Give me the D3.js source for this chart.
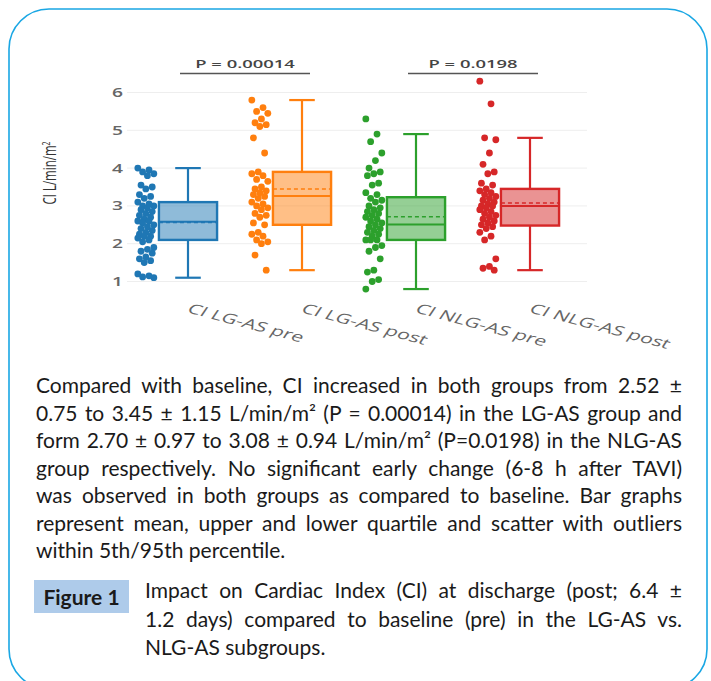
<!DOCTYPE html>
<html><head><meta charset="utf-8">
<script src="https://cdn.jsdelivr.net/npm/d3@7"></script>
<style>body{margin:0;background:#fff}</style>
</head><body><svg id="c" width="711" height="681"></svg>
<script>
// ---------------- DATA ----------------
const categories = ["CI LG-AS pre", "CI LG-AS post", "CI NLG-AS pre", "CI NLG-AS post"];
const colors = ["#1f77b4", "#ff7f0e", "#2ca02c", "#d62728"];

const lgPre = [4.0, 3.95, 3.9, 3.85, 3.8, 3.55, 3.5, 3.45, 3.3, 3.25, 3.2, 3.1, 3.05, 3.0, 3.0, 2.95, 2.9, 2.85, 2.8, 2.75, 2.7, 2.65, 2.6, 2.6, 2.55, 2.5, 2.45, 2.4, 2.35, 2.3, 2.25, 2.2, 2.2, 2.15, 2.1, 2.05, 1.9, 1.85, 1.8, 1.75, 1.65, 1.6, 1.55, 1.5, 1.2, 1.15, 1.12, 1.1];
const lgPost = [5.8, 5.6, 5.5, 5.45, 5.3, 5.2, 5.15, 5.1, 4.8, 4.4, 3.9, 3.85, 3.8, 3.7, 3.65, 3.5, 3.45, 3.4, 3.35, 3.3, 3.25, 3.2, 3.1, 3.05, 3.0, 2.95, 2.9, 2.8, 2.75, 2.7, 2.55, 2.5, 2.3, 2.25, 2.2, 2.1, 2.05, 2.0, 1.7, 1.3];
const nlgPre = [5.3, 4.9, 4.7, 4.4, 4.2, 4.0, 3.9, 3.85, 3.8, 3.6, 3.55, 3.35, 3.3, 3.2, 3.15, 3.1, 3.0, 2.95, 2.9, 2.85, 2.8, 2.75, 2.7, 2.65, 2.6, 2.55, 2.5, 2.45, 2.4, 2.35, 2.3, 2.25, 2.2, 2.1, 2.1, 2.1, 1.95, 1.9, 1.8, 1.6, 1.3, 1.25, 1.05, 1.0, 0.8];
const nlgPost = [6.3, 5.7, 4.8, 4.75, 4.4, 4.1, 3.9, 3.85, 3.6, 3.55, 3.45, 3.4, 3.35, 3.3, 3.25, 3.2, 3.15, 3.1, 3.05, 3.0, 3.0, 2.95, 2.9, 2.85, 2.8, 2.75, 2.7, 2.65, 2.6, 2.55, 2.5, 2.45, 2.4, 2.3, 2.2, 2.1, 1.6, 1.4, 1.35, 1.3];
const seriesPoints = [lgPre, lgPost, nlgPre, nlgPost];

const boxLower  = [1.1, 1.3, 0.8, 1.3];
const boxQ1     = [2.1, 2.5, 2.1, 2.48];
const boxMedian = [2.58, 3.26, 2.51, 3.0];
const boxQ3     = [3.1, 3.9, 3.23, 3.45];
const boxUpper  = [4.0, 5.8, 4.9, 4.8];
const boxMean   = [2.56, 3.45, 2.71, 3.08];

const yTicks = [1, 2, 3, 4, 5, 6];
const yTitle = "CI L/min/m";
const pLabels = ["P = 0.00014", "P = 0.0198"];
const pPairs = [[0, 1], [2, 3]];

const captionLines = [
  "Compared with baseline, CI increased in both groups from 2.52 ±",
  "0.75 to 3.45 ± 1.15 L/min/m² (P = 0.00014) in the LG-AS group and",
  "form 2.70 ± 0.97 to 3.08 ± 0.94 L/min/m² (P=0.0198) in the NLG-AS",
  "group respectively. No significant early change (6-8 h after TAVI)",
  "was observed in both groups as compared to baseline. Bar graphs",
  "represent mean, upper and lower quartile and scatter with outliers",
  "within 5th/95th percentile."
];
const figureTag = "Figure 1";
const figureLines = [
  "Impact on Cardiac Index (CI) at discharge (post; 6.4 ±",
  "1.2 days) compared to baseline (pre) in the LG-AS vs.",
  "NLG-AS subgroups."
];

// ---------------- DRAW ----------------
const svg = d3.select("#c");
const stretch = 1.6;            // chart image appears horizontally stretched
const chartFont = "'Open Sans', sans-serif";

// frame
svg.append("rect").attr("x", 9).attr("y", 9).attr("width", 698).attr("height", 680)
  .attr("rx", 40).attr("ry", 40).attr("fill", "none")
  .attr("stroke", "#1aa7e4").attr("stroke-width", 1.6);

const x = d3.scaleBand().domain(categories).range([131, 587]);
const y = d3.scaleLinear().domain([1, 6]).range([281.5, 92.5]);
const bw = x.bandwidth();
const boxW = bw * 0.51;
const ptOff = -bw * 0.37;
const jitW = 16;

// grid
svg.append("g").selectAll("line").data(yTicks).join("line")
  .attr("x1", 127).attr("x2", 587)
  .attr("y1", d => y(d)).attr("y2", d => y(d))
  .attr("stroke", "#eeeeee").attr("stroke-width", 1);

// y tick labels
svg.append("g").selectAll("text").data(yTicks).join("text")
  .attr("transform", d => `translate(123,${y(d) + 4.5}) scale(${stretch},1)`)
  .attr("text-anchor", "end")
  .attr("font-family", chartFont).attr("font-size", 12).attr("font-weight", 600)
  .attr("fill", "#666").text(d => d);

// y title
const yt = svg.append("text")
  .attr("transform", `translate(56,173) scale(${stretch},1) rotate(-90)`)
  .attr("text-anchor", "middle")
  .attr("font-family", chartFont).attr("font-size", 11.5).attr("fill", "#333");
yt.append("tspan").text(yTitle);
yt.append("tspan").attr("font-size", 7).attr("dy", -4).text("2");

// groups
categories.forEach((cat, i) => {
  const cx = x(cat) + bw / 2;
  const col = colors[i];
  const g = svg.append("g");
  // points
  g.selectAll("circle").data(seriesPoints[i]).join("circle")
    .attr("cx", (d, k) => cx + ptOff + (((k * 7) % 11) / 10 - 0.5) * jitW)
    .attr("cy", d => y(d))
    .attr("r", 3.4).attr("fill", col);
  // whiskers
  g.append("line").attr("x1", cx).attr("x2", cx)
    .attr("y1", y(boxQ3[i])).attr("y2", y(boxUpper[i]))
    .attr("stroke", col).attr("stroke-width", 2.2);
  g.append("line").attr("x1", cx).attr("x2", cx)
    .attr("y1", y(boxQ1[i])).attr("y2", y(boxLower[i]))
    .attr("stroke", col).attr("stroke-width", 2.2);
  [boxUpper[i], boxLower[i]].forEach(v => {
    g.append("line").attr("x1", cx - boxW * 0.22).attr("x2", cx + boxW * 0.22)
      .attr("y1", y(v)).attr("y2", y(v))
      .attr("stroke", col).attr("stroke-width", 2.2);
  });
  // box
  g.append("rect").attr("x", cx - boxW / 2).attr("width", boxW)
    .attr("y", y(boxQ3[i])).attr("height", y(boxQ1[i]) - y(boxQ3[i]))
    .attr("fill", col).attr("fill-opacity", 0.5)
    .attr("stroke", col).attr("stroke-width", 2.4);
  g.append("line").attr("x1", cx - boxW / 2).attr("x2", cx + boxW / 2)
    .attr("y1", y(boxMedian[i])).attr("y2", y(boxMedian[i]))
    .attr("stroke", col).attr("stroke-width", 2);
  g.append("line").attr("x1", cx - boxW / 2).attr("x2", cx + boxW / 2)
    .attr("y1", y(boxMean[i])).attr("y2", y(boxMean[i]))
    .attr("stroke", col).attr("stroke-width", 1.5).attr("stroke-dasharray", "4,3");
  // x label
  svg.append("text")
    .attr("transform", `translate(${cx - 2},${312}) scale(${stretch},1) rotate(23)`)
    .attr("font-family", chartFont).attr("font-size", 13.5)
    .attr("fill", "#666").text(cat);
});

// p-value brackets
pPairs.forEach((p, i) => {
  const a = x(categories[p[0]]) + bw / 2, b = x(categories[p[1]]) + bw / 2;
  const mid = (a + b) / 2;
  svg.append("line").attr("x1", mid - 65).attr("x2", mid + 65)
    .attr("y1", 73.5).attr("y2", 73.5).attr("stroke", "#555").attr("stroke-width", 1.5);
  svg.append("text").attr("transform", `translate(${mid},67.5) scale(${stretch},1)`)
    .attr("text-anchor", "middle")
    .attr("font-family", chartFont).attr("font-size", 11.5).attr("font-weight", 600)
    .attr("fill", "#444").text(pLabels[i]);
});

// ---------------- CAPTION ----------------
const capFont = "Lato, sans-serif";
const capSize = 21;
function textBlock(lines, y0, dy) {
  return lines.map((t, i) => svg.append("text")
    .attr("font-family", capFont).attr("font-size", capSize).attr("fill", "#1a1a1a")
    .attr("y", y0 + i * dy).text(t));
}
const capNodes = textBlock(captionLines, 393, 27.5);
const figNodes = textBlock(figureLines, 598, 28.5);

// common horizontal compression so that the widest justified line fits
const justified = [
  ...capNodes.slice(0, 6).map(n => [n, 36, 682]),
  ...figNodes.slice(0, 2).map(n => [n, 145, 682])
];
let kmin = 1;
justified.forEach(([n, a, b]) => {
  const w = n.node().getComputedTextLength();
  kmin = Math.min(kmin, (b - a) * 0.985 / w);
});
const k = kmin;
function place(n, a, b, just) {
  const yy = +n.attr("y");
  n.attr("y", null).attr("transform", `translate(${a},${yy}) scale(${k},1)`);
  if (just) {
    const w = n.node().getComputedTextLength();
    const spaces = (n.text().match(/ /g) || []).length;
    const target = (b - a) / k;
    if (spaces) n.attr("word-spacing", (target - w) / spaces);
  }
}
capNodes.forEach((n, i) => place(n, 36, 682, i < 6));
figNodes.forEach((n, i) => place(n, 145, 682, i < 2));

// figure tag
svg.append("rect").attr("x", 34).attr("y", 580).attr("width", 95).attr("height", 33)
  .attr("fill", "#aecbea");
svg.append("text").attr("x", 81.5).attr("y", 605).attr("text-anchor", "middle")
  .attr("font-family", capFont).attr("font-size", 21).attr("font-weight", 700)
  .attr("fill", "#1a1a1a").text(figureTag);
</script></body></html>
